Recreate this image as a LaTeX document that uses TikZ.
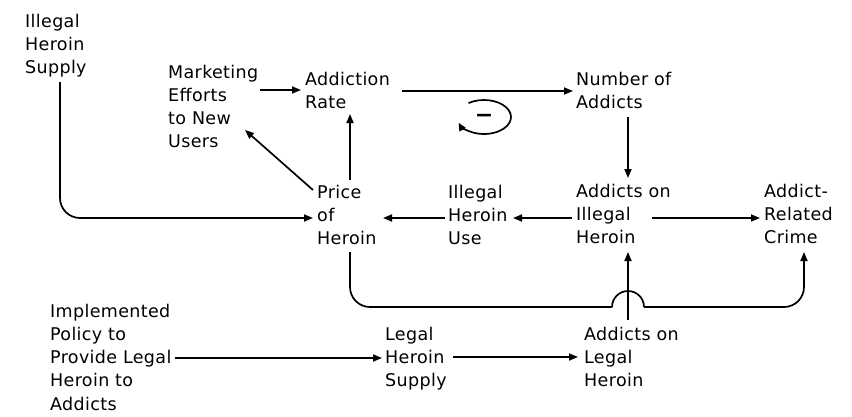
\documentclass[tikz,border=0pt]{standalone}
\usepackage{fontspec}
\setmainfont{DejaVu Sans}[LetterSpace=2]
\usetikzlibrary{arrows.meta}
\newcommand{\stack}[1]{\begin{tabular}[t]{@{}l@{}}#1\end{tabular}}
\begin{document}
\begin{tikzpicture}[x=1pt,y=1pt,
  lbl/.style={inner sep=0pt, anchor=base west, font=\fontsize{17.5}{23.3}\selectfont},
  conn/.style={line width=1.7pt},
  arr/.style={conn, -{Triangle[length=9pt,width=7pt]}}]
\useasboundingbox (0,0) rectangle (852,-416);
% nodes
\node[lbl] (ihs) at (25,-27) {\stack{Illegal\\Heroin\\Supply}};
\node[lbl] (mkt) at (168,-78) {\stack{Marketing\\Efforts\\to New\\Users}};
\node[lbl] (ar) at (305,-85) {\stack{Addiction\\Rate}};
\node[lbl] (na) at (576,-85) {\stack{Number of\\Addicts}};
\node[lbl] (pr) at (317,-198) {\stack{Price\\of\\Heroin}};
\node[lbl] (ihu) at (448,-198) {\stack{Illegal\\Heroin\\Use}};
\node[lbl] (aih) at (576,-197) {\stack{Addicts on\\Illegal\\Heroin}};
\node[lbl] (crime) at (764,-197) {\stack{Addict-\\Related\\Crime}};
\node[lbl] (pol) at (50,-317) {\stack{Implemented\\Policy to\\Provide Legal\\Heroin to\\Addicts}};
\node[lbl] (lhs) at (385,-340) {\stack{Legal\\Heroin\\Supply}};
\node[lbl] (alh) at (584,-340) {\stack{Addicts on\\Legal\\Heroin}};
% connectors
\draw[arr, rounded corners=20pt] ([shift={(35,-55)}]ihs.base west) |- ([shift={(-4,-20)}]pr.base west);
\draw[arr] ([shift={(92,-12)}]mkt.base west) -- ([shift={(-4,-5)}]ar.base west);
\draw[arr] ([shift={(-4,8)}]pr.base west) -- ([shift={(77,-52)}]mkt.base west);
\draw[arr] ([shift={(33,18)}]pr.base west) -- ([shift={(45,-29)}]ar.base west);
\draw[arr] ([shift={(97,-6)}]ar.base west) -- ([shift={(-3,-6)}]na.base west);
\draw[arr] ([shift={(52,-32)}]na.base west) -- ([shift={(52,19)}]aih.base west);
\draw[arr] ([shift={(-4,-21)}]aih.base west) -- ([shift={(65,-20)}]ihu.base west);
\draw[arr] ([shift={(-3,-20)}]ihu.base west) -- ([shift={(66,-20)}]pr.base west);
\draw[arr] ([shift={(76,-21)}]aih.base west) -- ([shift={(-4,-21)}]crime.base west);
% price -> crime with a hop over the vertical connector
\coordinate (hopL) at ([shift={(295,-109)}]pr.base west);
\coordinate (hopR) at ([shift={(327,-109)}]pr.base west);
\draw[conn, rounded corners=20pt] ([shift={(33,-54)}]pr.base west) |- (hopL);
\draw[conn] (hopL) arc[start angle=180,end angle=0,radius=16];
\draw[arr, rounded corners=20pt] (hopR) -| ([shift={(40,-55)}]crime.base west);
\draw[arr] ([shift={(44,20)}]alh.base west) -- ([shift={(52,-55)}]aih.base west);
\draw[arr] ([shift={(125,-41)}]pol.base west) -- ([shift={(-3,-18)}]lhs.base west);
\draw[arr] ([shift={(68,-17)}]lhs.base west) -- ([shift={(-6,-17)}]alh.base west);
% loop symbol
\coordinate (loopc) at (484,-117);
\draw[conn, -{Triangle[length=8pt,width=7pt]}] ([shift={(125:27 and 17)}]loopc)
  arc[start angle=125,end angle=-160,x radius=27,y radius=17];
\node[lbl, anchor=center, font=\fontsize{22}{26}\selectfont\bfseries] (minus) at ([yshift=-1]loopc) {−};
\end{tikzpicture}
\end{document}
